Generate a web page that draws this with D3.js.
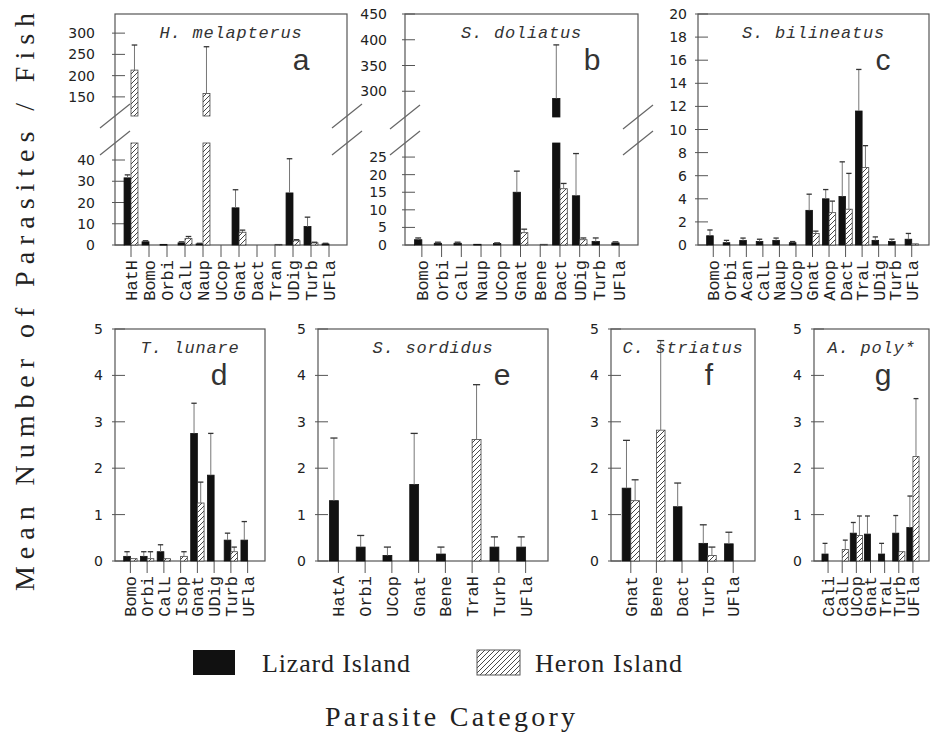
<!DOCTYPE html>
<html>
<head>
<meta charset="utf-8">
<script src="https://cdn.jsdelivr.net/npm/d3@7"></script>
<style>
  body { margin: 0; background: #fff; }
</style>
</head>
<body>
<svg id="chart" width="931" height="732"></svg>
<script>
// ---- data (means and upper end of error bar, per parasite category) ----
var seriesNames = ['Lizard Island', 'Heron Island']

// a  H. melapterus
var aCats = ['HatH','Bomo','Orbi','CalL','Naup','UCop','Gnat','Dact','Tran','UDig','Turb','UFla']
var aLizard    = [31.6, 1.5, 0.3, 1.0, 0.5, 0, 17.5, 0, 0, 24.5, 8.7, 0.5]
var aLizardErr = [33,   2.0, 0,   1.5, 0.8, 0, 26,   0, 0, 40.6, 13.1, 0.8]
var aHeron     = [213, 0, 0, 3.0, 158, 0, 6.0, 0, 0.3, 2.0, 1.0, 0]
var aHeronErr  = [272, 0, 0, 4.0, 268, 0, 7.0, 0, 0,   2.5, 1.3, 0]
var aTicksLow  = [0, 10, 20, 30, 40]
var aTicksHigh = [150, 200, 250, 300]

// b  S. doliatus
var bCats = ['Bomo','Orbi','CalL','Naup','UCop','Gnat','Bene','Dact','UDig','Turb','UFla']
var bLizard    = [1.5, 0.5, 0.5, 0.2, 0.4, 15, 0, 286, 14, 1.0, 0.6]
var bLizardErr = [2.0, 0.8, 0.8, 0,   0.6, 21, 0, 390, 26, 2.0, 0.9]
var bHeron     = [0, 0, 0, 0, 0, 3.5, 0.2, 16,   1.5, 0, 0]
var bHeronErr  = [0, 0, 0, 0, 0, 4.5, 0,   17.5, 2.0, 0, 0]
var bTicksLow  = [0, 5, 10, 15, 20, 25]
var bTicksHigh = [300, 350, 400, 450]

// c  S. bilineatus
var cCats = ['Bomo','Orbi','Acan','CalL','Naup','UCop','Gnat','Anop','Dact','TraL','UDig','Turb','UFla']
var cLizard    = [0.8, 0.2, 0.4, 0.3, 0.4, 0.2, 3.0, 4.0, 4.2, 11.6, 0.4, 0.3, 0.5]
var cLizardErr = [1.3, 0.4, 0.6, 0.5, 0.6, 0.3, 4.4, 4.8, 7.2, 15.2, 0.7, 0.5, 1.0]
var cHeron     = [0, 0, 0, 0, 0, 0, 1.0, 2.8, 3.1, 6.7, 0, 0, 0.1]
var cHeronErr  = [0, 0, 0, 0, 0, 0, 1.2, 3.8, 6.2, 8.6, 0, 0, 0]
var cTicks = [0, 2, 4, 6, 8, 10, 12, 14, 16, 18, 20]

// d  T. lunare
var dCats = ['Bomo','Orbi','CalL','Isop','Gnat','UDig','Turb','UFla']
var dLizard    = [0.1, 0.1, 0.2,  0,   2.75, 1.85, 0.45, 0.45]
var dLizardErr = [0.2, 0.2, 0.35, 0,   3.4,  2.75, 0.6,  0.85]
var dHeron     = [0.05, 0.05, 0.05, 0.1, 1.25, 0, 0.2, 0]
var dHeronErr  = [0,    0.2,  0,    0.2, 1.7,  0, 0.3, 0]

// e  S. sordidus
var eCats = ['HatA','Orbi','UCop','Gnat','Bene','TraH','Turb','UFla']
var eLizard    = [1.3,  0.3,  0.12, 1.65, 0.15, 0, 0.3,  0.3]
var eLizardErr = [2.65, 0.55, 0.3,  2.75, 0.3,  0, 0.52, 0.52]
var eHeron     = [0, 0, 0, 0, 0, 2.62, 0, 0]
var eHeronErr  = [0, 0, 0, 0, 0, 3.8,  0, 0]

// f  C. striatus
var fCats = ['Gnat','Bene','Dact','Turb','UFla']
var fLizard    = [1.57, 0, 1.17, 0.38, 0.37]
var fLizardErr = [2.6,  0, 1.68, 0.78, 0.62]
var fHeron     = [1.3,  2.82, 0, 0.12, 0]
var fHeronErr  = [1.75, 4.75, 0, 0.3,  0]

// g  A. poly*
var gCats = ['Cali','CalL','UCop','Gnat','TraL','Turb','UFla']
var gLizard    = [0.15, 0,    0.6,  0.58, 0.15, 0.6,  0.72]
var gLizardErr = [0.38, 0,    0.83, 0.97, 0.38, 0.98, 1.4]
var gHeron     = [0,    0.25, 0.55, 0,    0,    0.2,  2.25]
var gHeronErr  = [0,    0.45, 0.97, 0,    0,    0,    3.5]

var smallTicks = [0, 1, 2, 3, 4, 5]

// ---- layout ----
var panels = [
  {letter:'a', title:'H. melapterus', cats:aCats, liz:aLizard, lizErr:aLizardErr, her:aHeron, herErr:aHeronErr,
   x0:115, x1:347, top:14, base:245, low:[0,48], lowTop:143, high:[105,345], highBottom:116,
   ticksLow:aTicksLow, ticksHigh:aTicksHigh, labelGap:20},
  {letter:'b', title:'S. doliatus', cats:bCats, liz:bLizard, lizErr:bLizardErr, her:bHeron, herErr:bHeronErr,
   x0:405, x1:638, top:14, base:245, low:[0,29], lowTop:143, high:[250,450], highBottom:117,
   ticksLow:bTicksLow, ticksHigh:bTicksHigh, labelGap:18},
  {letter:'c', title:'S. bilineatus', cats:cCats, liz:cLizard, lizErr:cLizardErr, her:cHeron, herErr:cHeronErr,
   x0:698, x1:929, top:14, base:245, low:[0,20], lowTop:14,
   ticksLow:cTicks, labelGap:11},
  {letter:'d', title:'T. lunare', cats:dCats, liz:dLizard, lizErr:dLizardErr, her:dHeron, herErr:dHeronErr,
   x0:115, x1:265, top:329, base:561, low:[0,5], lowTop:329, ticksLow:smallTicks, labelGap:12},
  {letter:'e', title:'S. sordidus', cats:eCats, liz:eLizard, lizErr:eLizardErr, her:eHeron, herErr:eHeronErr,
   x0:318, x1:548, top:329, base:561, low:[0,5], lowTop:329, ticksLow:smallTicks, labelGap:12},
  {letter:'f', title:'C. striatus', cats:fCats, liz:fLizard, lizErr:fLizardErr, her:fHeron, herErr:fHeronErr,
   x0:611, x1:755, top:329, base:561, low:[0,5], lowTop:329, ticksLow:smallTicks, labelGap:12},
  {letter:'g', title:'A. poly*', cats:gCats, liz:gLizard, lizErr:gLizardErr, her:gHeron, herErr:gHeronErr,
   x0:814, x1:929, top:329, base:561, low:[0,5], lowTop:329, ticksLow:smallTicks, labelGap:12}
]

var svg = d3.select('#chart')
var ink = '#222'

var defs = svg.append('defs')
var pat = defs.append('pattern')
  .attr('id', 'hatch')
  .attr('patternUnits', 'userSpaceOnUse')
  .attr('width', 5).attr('height', 5)
pat.append('rect').attr('width', 5).attr('height', 5).attr('fill', '#fff')
pat.append('path')
  .attr('d', 'M-1,1 l2,-2 M0,5 l5,-5 M4,6 l2,-2')
  .attr('stroke', '#333').attr('stroke-width', 0.9)

panels.forEach(function(p){
  var g = svg.append('g').attr('class', 'panel-' + p.letter)

  var x = d3.scalePoint().domain(p.cats).range([p.x0 + 7, p.x1 - 9]).padding(0.5)
  var yLow = d3.scaleLinear().domain(p.low).range([p.base, p.lowTop])
  var yHigh = p.high ? d3.scaleLinear().domain(p.high).range([p.highBottom, p.top]) : null
  var barW = 3 + x.step() * 0.22

  // pixel pieces of a value interval, one per axis segment
  function segs(v0, v1){
    var out = []
    var a = Math.max(v0, p.low[0]), b = Math.min(v1, p.low[1])
    if (b > a) out.push([yLow(a), yLow(b)])
    if (yHigh){
      a = Math.max(v0, p.high[0]); b = Math.min(v1, p.high[1])
      if (b > a) out.push([yHigh(a), yHigh(b)])
    }
    return out
  }
  function yOf(v){
    if (v <= p.low[1]) return yLow(v)
    if (yHigh && v >= p.high[0]) return yHigh(v)
    return null
  }

  // frame
  g.append('rect')
    .attr('x', p.x0).attr('y', p.top)
    .attr('width', p.x1 - p.x0).attr('height', p.base - p.top)
    .attr('fill', 'none').attr('stroke', '#555').attr('stroke-width', 1.2)

  // y ticks
  var ticks = p.ticksLow.map(function(t){ return {t: t, y: yLow(t)} })
  if (yHigh) ticks = ticks.concat(p.ticksHigh.map(function(t){ return {t: t, y: yHigh(t)} }))
  ticks.forEach(function(d){
    g.append('line')
      .attr('x1', p.x0 - 3).attr('x2', p.x0 + 10)
      .attr('y1', d.y).attr('y2', d.y)
      .attr('stroke', '#555').attr('stroke-width', 1)
    g.append('text')
      .attr('x', p.x0 - p.labelGap).attr('y', d.y).attr('dy', '0.36em')
      .attr('text-anchor', 'end')
      .attr('font-family', 'DejaVu Sans').attr('font-size', 14)
      .attr('fill', ink)
      .text(d.t)
  })

  // axis break marks
  if (yHigh){
    [p.x0, p.x1].forEach(function(ex){
      [p.highBottom, p.lowTop].forEach(function(by){
        g.append('line')
          .attr('x1', ex - 15).attr('y1', by + 12)
          .attr('x2', ex + 15).attr('y2', by - 12)
          .attr('stroke', '#666').attr('stroke-width', 1.2)
      })
    })
  }

  // x ticks + category labels
  p.cats.forEach(function(c){
    var cx = x(c)
    g.append('line')
      .attr('x1', cx).attr('x2', cx)
      .attr('y1', p.base).attr('y2', p.base + 12)
      .attr('stroke', '#555').attr('stroke-width', 1)
    g.append('text')
      .attr('transform', 'translate(' + cx + ',' + (p.base + 15) + ') rotate(-90)')
      .attr('dy', '0.35em')
      .attr('text-anchor', 'end')
      .attr('font-family', 'Liberation Mono').attr('font-size', 17)
      .attr('fill', ink)
      .text(c)
  })

  // bars
  var series = [
    {vals: p.liz, errs: p.lizErr, off: -barW, fill: '#111', stroke: '#111'},
    {vals: p.her, errs: p.herErr, off: 0, fill: 'url(#hatch)', stroke: '#444'}
  ]
  series.forEach(function(s){
    p.cats.forEach(function(c, i){
      var v = s.vals[i]
      if (!(v > 0)) return
      var bx = x(c) + s.off
      segs(0, v).forEach(function(sg){
        g.append('rect')
          .attr('x', bx).attr('y', sg[1])
          .attr('width', barW).attr('height', Math.max(0.8, sg[0] - sg[1]))
          .attr('fill', s.fill).attr('stroke', s.stroke).attr('stroke-width', 0.8)
      })
    })
  })

  // error bars
  series.forEach(function(s){
    p.cats.forEach(function(c, i){
      var v = s.vals[i], e = s.errs[i]
      if (!(e > v)) return
      var ex = x(c) + s.off + barW / 2
      segs(v, e).forEach(function(sg){
        g.append('line')
          .attr('x1', ex).attr('x2', ex)
          .attr('y1', sg[0]).attr('y2', sg[1])
          .attr('stroke', '#777').attr('stroke-width', 1)
      })
      var ey = yOf(e)
      if (ey !== null){
        g.append('line')
          .attr('x1', ex - barW * 0.4).attr('x2', ex + barW * 0.4)
          .attr('y1', ey).attr('y2', ey)
          .attr('stroke', '#333').attr('stroke-width', 1.3)
      }
    })
  })

  // title + panel letter
  g.append('text')
    .attr('x', (p.x0 + p.x1) / 2).attr('y', p.top + 24)
    .attr('text-anchor', 'middle')
    .attr('font-family', 'Liberation Mono').attr('font-style', 'italic')
    .attr('font-size', 17).attr('letter-spacing', 0.8)
    .attr('fill', '#333')
    .text(p.title)
  g.append('text')
    .attr('x', p.x1 - 46).attr('y', p.top + 56)
    .attr('text-anchor', 'middle')
    .attr('font-family', 'Liberation Sans').attr('font-size', 30)
    .attr('fill', '#333')
    .text(p.letter)
})

// legend
var serif = 'Liberation Serif'
svg.append('rect').attr('x', 193).attr('y', 650).attr('width', 42).attr('height', 25).attr('fill', '#111')
svg.append('text').attr('x', 262).attr('y', 672)
  .attr('font-family', serif).attr('font-size', 26).attr('fill', ink)
  .attr('textLength', 148).attr('lengthAdjust', 'spacing')
  .text(seriesNames[0])
svg.append('rect').attr('x', 477).attr('y', 650).attr('width', 43).attr('height', 25)
  .attr('fill', 'url(#hatch)').attr('stroke', '#555').attr('stroke-width', 1)
svg.append('text').attr('x', 535).attr('y', 672)
  .attr('font-family', serif).attr('font-size', 26).attr('fill', ink)
  .attr('textLength', 147).attr('lengthAdjust', 'spacing')
  .text(seriesNames[1])

// axis titles
svg.append('text').attr('x', 450).attr('y', 726)
  .attr('text-anchor', 'middle')
  .attr('font-family', serif).attr('font-size', 28).attr('fill', ink)
  .attr('textLength', 250).attr('lengthAdjust', 'spacing')
  .text('Parasite Category')
svg.append('text')
  .attr('transform', 'translate(34,302) rotate(-90)')
  .attr('text-anchor', 'middle')
  .attr('font-family', serif).attr('font-size', 28).attr('fill', ink)
  .attr('textLength', 578).attr('lengthAdjust', 'spacing')
  .text('Mean Number of Parasites / Fish')
</script>
</body>
</html>
